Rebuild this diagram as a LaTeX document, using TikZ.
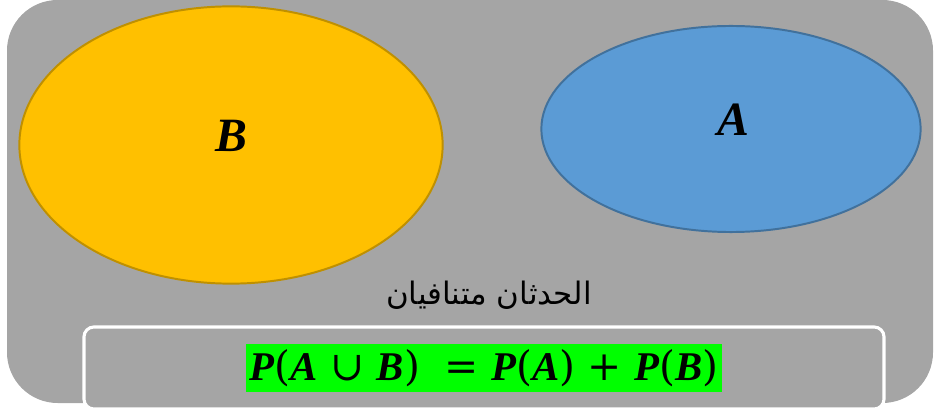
\documentclass[tikz,border=0pt]{standalone}
\usepackage{fontspec}
\usepackage{xcolor}
\usepackage{tikz}
\usetikzlibrary{shapes.geometric}
\newfontfamily\arabicfont[Script=Arabic]{DejaVu Sans}
\newfontfamily\varfont{Liberation Serif}
\newfontfamily\opfont{DejaVu Serif}
\TeXXeTstate=1
\definecolor{panelgray}{HTML}{A5A5A5}
\definecolor{setyellow}{HTML}{FFC000}
\definecolor{setyellowline}{HTML}{BF9000}
\definecolor{setblue}{HTML}{5B9BD5}
\definecolor{setblueline}{HTML}{41719C}
\definecolor{eqgreen}{HTML}{00FF00}
\newcommand{\ev}[1]{{\varfont\bfseries\itshape #1\/}}
\newcommand{\op}[1]{{\opfont #1}}
\tikzset{
  evset/.style={draw, ellipse, line width=1.4pt, inner sep=0pt},
  setlbl/.style={font=\fontsize{34}{38}\selectfont, inner sep=0pt},
  notebox/.style={font=\arabicfont\fontsize{22}{26}\selectfont, inner sep=0pt},
  eqframe/.style={draw=white, line width=2.2pt, rounded corners=7pt, fill=panelgray},
  eqbox/.style={fill=eqgreen, font=\fontsize{29}{34}\selectfont, inner sep=0pt,
                minimum width=11.9cm, minimum height=1.22cm},
}

\begin{document}
\begin{tikzpicture}[x=0.025cm, y=-0.025cm]
  \useasboundingbox (0,0) rectangle (934,412);
  % sample space
  \fill[panelgray, rounded corners=36pt] (7,0) rectangle (933,403);
  % the two events
  \node[evset, fill=setyellow, draw=setyellowline,
        minimum width=10.58cm, minimum height=6.93cm] (setB) at (231,145) {};
  \node[evset, fill=setblue, draw=setblueline,
        minimum width=9.48cm, minimum height=5.15cm] (setA) at (731,129) {};
  \node[setlbl] (lblB) at (231,136) {\ev{B}};
  \node[setlbl] (lblA) at (733,120) {\ev{A}};
  % caption and formula
  \node[notebox] (disj) at (489,295) {\beginR الحدثان متنافيان\endR};
  \draw[eqframe] (84,327) rectangle (884,409);
  \node[eqbox] (rule) at (484,368)
    {\ev{P}\op{(}\ev{A} \op{∪} \ev{B}\op{)}\hspace{0.3em} \op{=} \ev{P}\op{(}\ev{A}\op{)} \op{+} \ev{P}\op{(}\ev{B}\op{)}};
\end{tikzpicture}
\end{document}
